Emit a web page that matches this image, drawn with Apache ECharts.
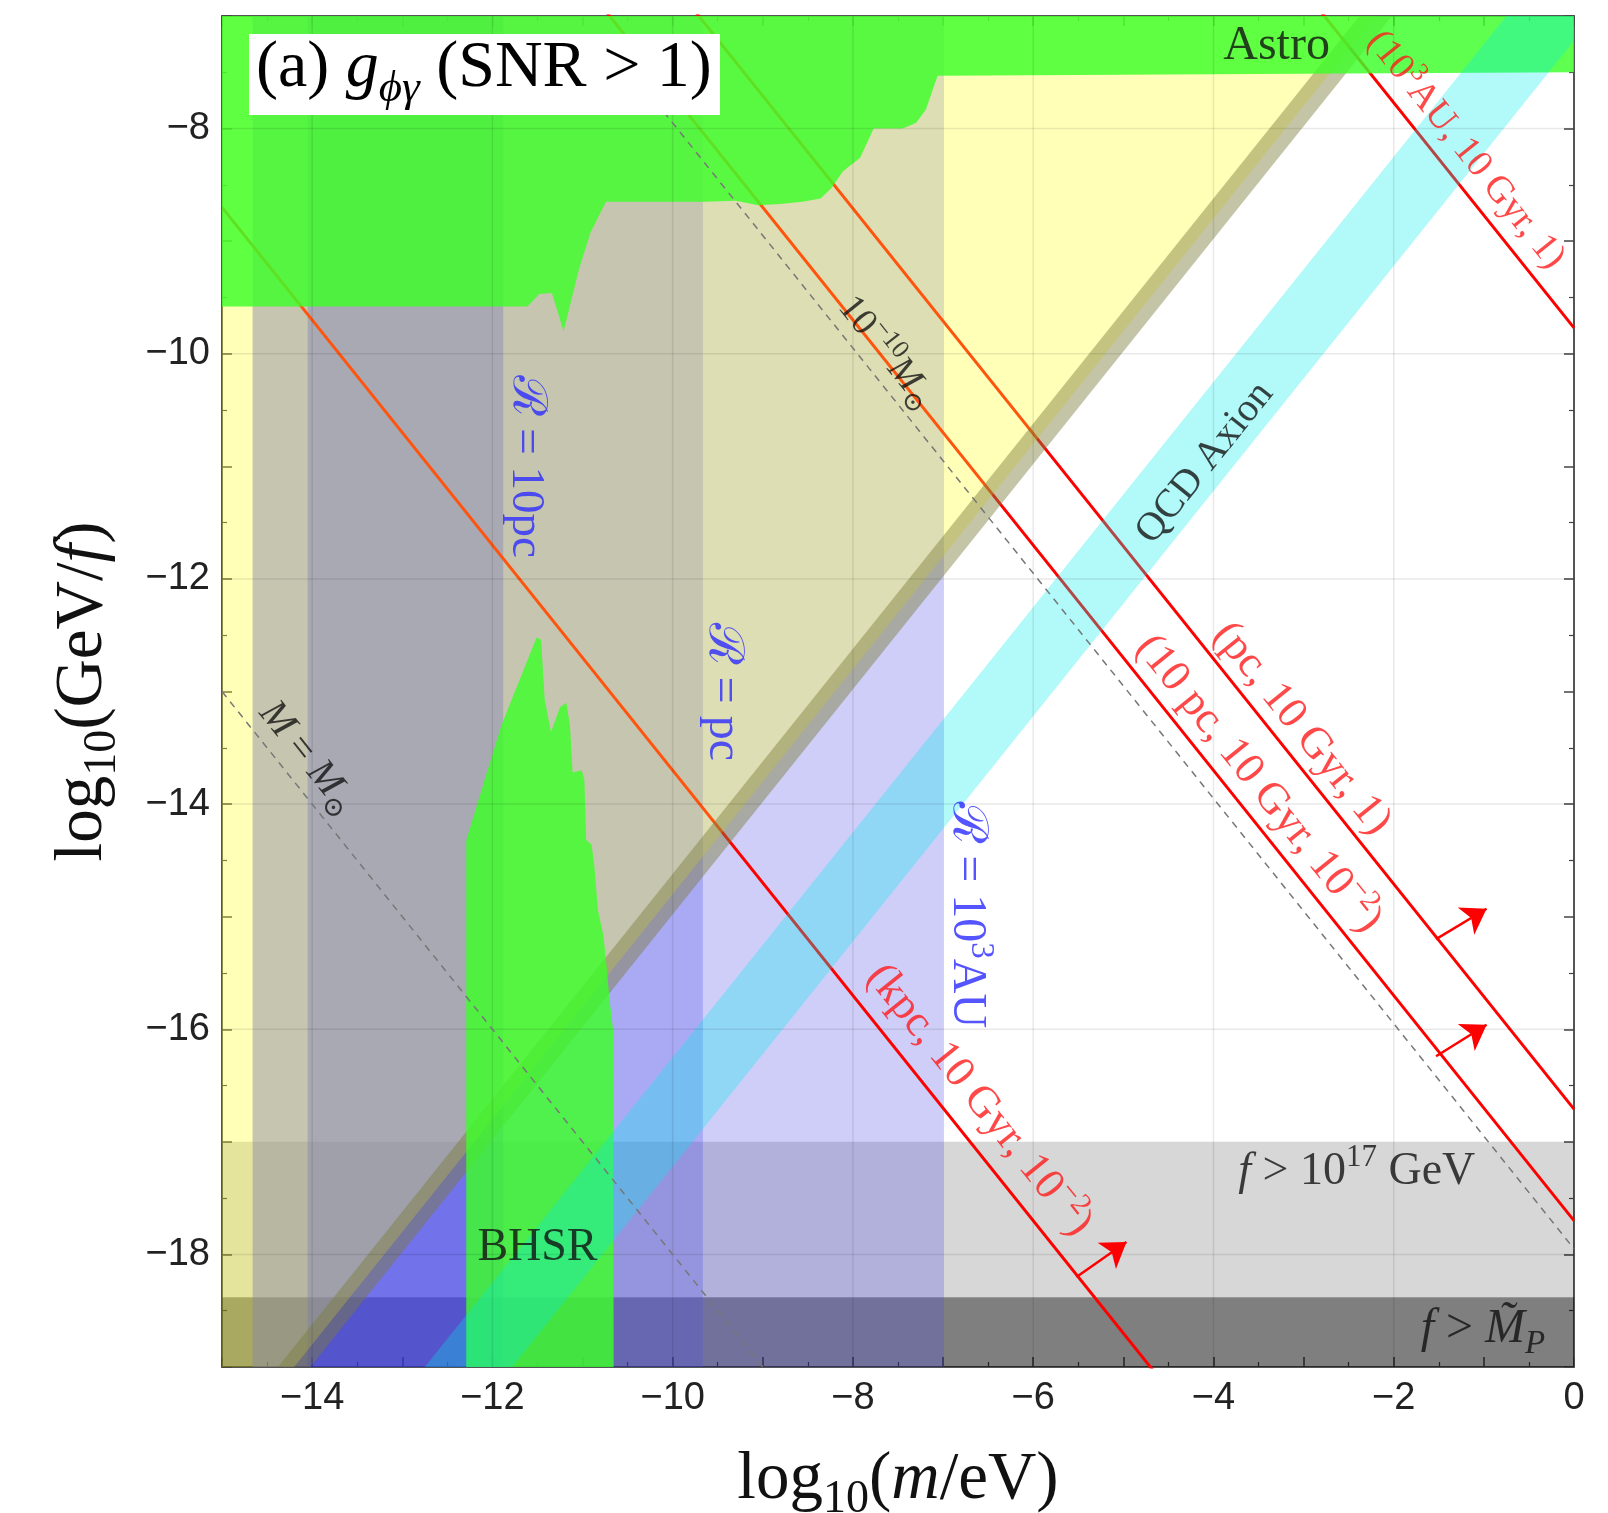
<!DOCTYPE html>
<html><head><meta charset="utf-8">
<script src="https://cdn.jsdelivr.net/npm/echarts/dist/echarts.min.js"></script>
<style>html,body{margin:0;padding:0;background:#fff}#c{width:1608px;height:1513px}</style>
</head><body><div id="c"></div>
<script>
// ---------------- data ----------------
const xRange = [-15, 0];           // log10(m/eV)
const yRange = [-19, -7];          // log10(GeV/f)
const xGridLines = [-14, -12, -10, -8, -6, -4, -2];
const yGridLines = [-18, -16, -14, -12, -10, -8];

// horizontal grey bands: f > 1e17 GeV, f > reduced Planck mass
const fBandLow  = [-18.38, -19];
const fBandHigh = [-17, -18.38];

// vertical R bands: 10^3 AU, pc, 10 pc
const rBandLeft  = [-14.66, -14.66, -14.05];
const rBandRight = [-6.99, -9.665, -11.88];

// yellow excluded region (upper-left of diagonal) and its olive edge
const yellowX = [-15, -14.2, -2.2, -15];
const yellowY = [-19, -19, -7, -7];
const oliveX = [-14.38, -14.02, -2.02, -2.38];
const oliveY = [-19, -19, -7, -7];

// QCD axion band
const qcdX = [-12.75, -11.78, 0, 0, -0.75];
const qcdY = [-19, -19, -7.22, -7, -7];

// Astro (green, top)
const astroX = [-15, 0, 0, -7.06, -7.10, -7.19, -7.30, -7.45, -7.77, -7.92, -8.11, -8.24, -8.36, -8.56, -8.81, -9.05, -9.30, -9.65, -10.74, -10.91, -11.04, -11.21, -11.34, -11.48, -11.61, -15];
const astroY = [-7, -7, -7.5, -7.53, -7.62, -7.83, -7.95, -8.0, -8.0, -8.26, -8.38, -8.53, -8.62, -8.65, -8.67, -8.68, -8.64, -8.65, -8.65, -8.92, -9.25, -9.80, -9.46, -9.47, -9.58, -9.58];

// BHSR (green, bottom)
const bhsrX = [-12.29, -12.29, -11.90, -11.51, -11.46, -11.42, -11.35, -11.25, -11.18, -11.14, -11.11, -11.01, -10.98, -10.96, -10.90, -10.87, -10.83, -10.77, -10.74, -10.70, -10.66, -10.655];
const bhsrY = [-19, -14.32, -13.30, -12.52, -12.54, -13.07, -13.36, -13.14, -13.10, -13.30, -13.72, -13.70, -13.78, -14.32, -14.36, -14.54, -14.94, -15.16, -15.38, -15.74, -16.01, -19];

// red sensitivity lines  log10(GeV/f) = -log10(m/eV) + b   (kpc, 10pc, pc, 10^3AU)
const redLineIntercept = [-23.70, -17.70, -16.71, -9.77];
// dashed mass lines (M = Msun, 1e-10 Msun)
const dashedIntercept = [-28.0, -17.95];
const dashedStartX = [-15.09, -10.1];
const dashedEndX = [-9.0, 0];

// arrows on red lines (kpc, pc, 10pc)
const arrowFromX = [-5.52, -1.53, -1.53];
const arrowFromY = [-18.20, -15.20, -16.24];
const arrowToX = [-4.965, -0.97, -0.97];
const arrowToY = [-17.89, -14.93, -15.96];

// ---------------- styling helpers ----------------
const SERIF = '"Liberation Serif", "DejaVu Serif", "Times New Roman", serif';
const SANS = '"Liberation Sans", Arial, Helvetica, sans-serif';

function rich(size, color) {
  const s = Math.round(size * 0.68);
  const base = {fontFamily: SERIF, color: color};
  return {
    n: Object.assign({}, base, {fontSize: size}),
    i: Object.assign({}, base, {fontSize: size, fontStyle: 'italic'}),
    c: Object.assign({}, base, {fontSize: size, fontFamily: '"DejaVu Serif", "Noto Sans", serif', fontStyle: 'italic'}),
    sub: Object.assign({}, base, {fontSize: s, padding: [Math.round(size * 0.6), 0, 0, 0]}),
    subi: Object.assign({}, base, {fontSize: s, fontStyle: 'italic', padding: [Math.round(size * 0.6), 0, 0, 0]}),
    sup: Object.assign({}, base, {fontSize: s, padding: [0, 0, Math.round(size * 0.6), 0]})
  };
}

function polySeries(xs, ys, color, z) {
  return {
    type: 'custom', coordinateSystem: 'cartesian2d', clip: true, silent: true, z: z,
    xAxisIndex: 0, yAxisIndex: 0,
    data: xs.map((x, i) => [x, ys[i]]),
    renderItem: function (params, api) {
      if (params.dataIndexInside !== 0) return null;
      const pts = [];
      for (let i = 0; i < params.dataInsideLength; i++) {
        pts.push(api.coord([api.value(0, i), api.value(1, i)]));
      }
      return {type: 'polygon', shape: {points: pts}, style: {fill: color}};
    }
  };
}

const series = [];
// grey f-bands
const fColors = ['rgba(0,0,0,0.155)', 'rgba(0,0,0,0.5)'];
fBandLow.forEach((lo, i) => {
  series.push(polySeries([xRange[0], xRange[1], xRange[1], xRange[0]], [lo, lo, fBandHigh[i], fBandHigh[i]], fColors[i], 1));
});
// R bands (blue, translucent)
const rColors = ['rgba(80,80,235,0.28)', 'rgba(80,80,235,0.28)', 'rgba(50,50,255,0.35)'];
rBandLeft.forEach((l, i) => {
  series.push(polySeries([l, rBandRight[i], rBandRight[i], l], [yRange[0], yRange[0], yRange[1], yRange[1]], rColors[i], 2));
});
// red lines (below yellow/green)
redLineIntercept.forEach(b => {
  series.push({
    type: 'line', z: 3, silent: true, showSymbol: false, clip: true, animation: false,
    data: [[xRange[0], -xRange[0] + b], [xRange[1], -xRange[1] + b]],
    lineStyle: {color: '#ff0000', width: 3}
  });
});
// yellow region and olive edge
series.push(polySeries(yellowX, yellowY, 'rgba(255,255,40,0.33)', 4));
series.push(polySeries(oliveX, oliveY, 'rgba(125,125,60,0.45)', 5));
// green regions
series.push(polySeries(astroX, astroY, 'rgba(60,255,40,0.82)', 6));
series.push(polySeries(bhsrX, bhsrY, 'rgba(60,255,40,0.82)', 6));
// QCD axion band
series.push(polySeries(qcdX, qcdY, 'rgba(0,235,240,0.3)', 7));
// grid lines
series.push({
  type: 'custom', coordinateSystem: 'cartesian2d', silent: true, z: 8, clip: true,
  data: xGridLines.map(v => [v, yRange[0]]),
  renderItem: function (params, api) {
    const a = api.coord([api.value(0), yRange[0]]), b = api.coord([api.value(0), yRange[1]]);
    return {type: 'line', shape: {x1: a[0], y1: a[1], x2: b[0], y2: b[1]}, style: {stroke: 'rgba(0,0,0,0.09)', lineWidth: 1.5}};
  }
});
series.push({
  type: 'custom', coordinateSystem: 'cartesian2d', silent: true, z: 8, clip: true,
  data: yGridLines.map(v => [xRange[0], v]),
  renderItem: function (params, api) {
    const a = api.coord([xRange[0], api.value(1)]), b = api.coord([xRange[1], api.value(1)]);
    return {type: 'line', shape: {x1: a[0], y1: a[1], x2: b[0], y2: b[1]}, style: {stroke: 'rgba(0,0,0,0.09)', lineWidth: 1.5}};
  }
});
// dashed mass lines
dashedIntercept.forEach((b, i) => {
  series.push({
    type: 'line', z: 9, silent: true, showSymbol: false, clip: false,
    data: [[dashedStartX[i], -dashedStartX[i] + b], [dashedEndX[i], -dashedEndX[i] + b]],
    lineStyle: {color: '#777', width: 1.5, type: [7, 6]}
  });
});
// arrows
series.push({
  type: 'lines', coordinateSystem: 'cartesian2d', z: 10, silent: true,
  symbol: ['none', 'arrow'], symbolSize: 24,
  lineStyle: {color: '#ff0000', width: 2.5, opacity: 1},
  data: arrowFromX.map((x, i) => ({coords: [[x, arrowFromY[i]], [arrowToX[i], arrowToY[i]]]}))
});

// text annotations anchored in data space
const ANG = 51.3;
function note(x, y, text, size, color, rotate) {
  return {value: [x, y], label: {show: true, position: 'inside', align: 'center', verticalAlign: 'middle',
    formatter: text, rotate: rotate || 0, rich: rich(size, color)}};
}
const BLUE = '#2b2bff', RED = '#ff1a1a', BLK = '#111';
series.push({
  type: 'scatter', z: 20, silent: true, symbolSize: 0,
  data: [
    note(-3.30, -7.27, '{n|Astro}', 48, BLK),
    note(-11.5, -17.94, '{n|BHSR}', 46, BLK),
    note(-11.63, -11.0, '{c|ℛ}{n| = 10pc}', 47, BLUE, -90),
    note(-9.445, -13.0, '{c|ℛ}{n| = pc}', 48, BLUE, -90),
    note(-6.74, -14.98, '{c|ℛ}{n| = 10}{sup|3}{n|AU}', 48, BLUE, -90),
    note(-4.095, -10.97, '{n|QCD Axion}', 40, BLK, ANG),
    note(-7.63, -9.99, '{n|10}{sup|−10}{i|M}{sub|⊙}', 38, BLK, -ANG),
    note(-14.05, -13.59, '{i|M}{n| = }{i|M}{sub|⊙}', 40, BLK, -ANG),
    note(-1.20, -8.19, '{n|(10}{sup|3}{n|AU, 10 Gyr, 1)}', 38, RED, -ANG),
    note(-3.02, -13.33, '{n|(pc, 10 Gyr, 1)}', 44, RED, -ANG),
    note(-3.50, -13.82, '{n|(10 pc, 10 Gyr, 10}{sup|−2}{n|)}', 44, RED, -ANG),
    note(-6.60, -16.63, '{n|(kpc, 10 Gyr, 10}{sup|−2}{n|)}', 44, RED, -ANG),
    note(-2.41, -17.27, '{i|f}{n| > 10}{sup|17}{n| GeV}', 46, BLK),
    note(-1.01, -18.67, '{i|f}{n| > }{i|M̃}{subi|P}', 48, BLK)
  ]
});

function fmt(v) {
  if (Math.abs(v - Math.round(v)) > 1e-6 || Math.round(v) % 2 !== 0) return '';
  return v === 0 ? '0' : '\u2212' + Math.abs(Math.round(v));
}
const tickStyle = {show: true, inside: true, length: 10, lineStyle: {color: '#444', width: 1.5}};
const minorStyle = {show: true, splitNumber: 2, length: 5, lineStyle: {color: '#444', width: 1.2}};
const lineStyleAxis = {show: true, onZero: false, lineStyle: {color: '#555', width: 2}};
const nameRich = rich(67, '#111');

const option = {
  animation: false,
  backgroundColor: '#fff',
  grid: {left: 222, right: 34, top: 16, bottom: 146, containLabel: false, outerBoundsMode: 'none'},
  xAxis: [
    {type: 'value', min: xRange[0], max: xRange[1], interval: 1, position: 'bottom',
      axisLine: lineStyleAxis, axisTick: tickStyle, minorTick: minorStyle, splitLine: {show: false},
      axisLabel: {formatter: fmt, fontFamily: SANS, fontSize: 38, color: '#222', margin: 13},
      name: '{n|log}{sub|10}{n|(}{i|m}{n|/eV)}', nameLocation: 'middle', nameGap: 70,
      nameTextStyle: {rich: nameRich}},
    {type: 'value', min: xRange[0], max: xRange[1], interval: 1, position: 'top',
      axisLine: lineStyleAxis, axisTick: tickStyle, minorTick: minorStyle, splitLine: {show: false},
      axisLabel: {show: false}}
  ],
  yAxis: [
    {type: 'value', min: yRange[0], max: yRange[1], interval: 1, position: 'left',
      axisLine: lineStyleAxis, axisTick: tickStyle, minorTick: minorStyle, splitLine: {show: false},
      axisLabel: {formatter: fmt, fontFamily: SANS, fontSize: 38, color: '#222', margin: 12},
      name: '{n|log}{sub|10}{n|(GeV/}{i|f}{n|)}', nameLocation: 'middle', nameGap: 96, nameRotate: 90,
      nameTextStyle: {rich: nameRich}},
    {type: 'value', min: yRange[0], max: yRange[1], interval: 1, position: 'right',
      axisLine: lineStyleAxis, axisTick: tickStyle, minorTick: minorStyle, splitLine: {show: false},
      axisLabel: {show: false}}
  ],
  graphic: [
    {type: 'rect', left: 249, top: 34, z: 100, zlevel: 1, shape: {width: 471, height: 81}, style: {fill: '#fff'}},
    {type: 'text', left: 256, top: 36, z: 101, zlevel: 1,
      style: {text: '{n|(a) }{i|g}{subi|ϕγ}{n| (SNR > 1)}', rich: rich(66, '#111')}}
  ],
  series: series
};
const chart = echarts.init(document.getElementById('c'), null, {renderer: 'canvas'});
chart.setOption(option);
</script></body></html>
